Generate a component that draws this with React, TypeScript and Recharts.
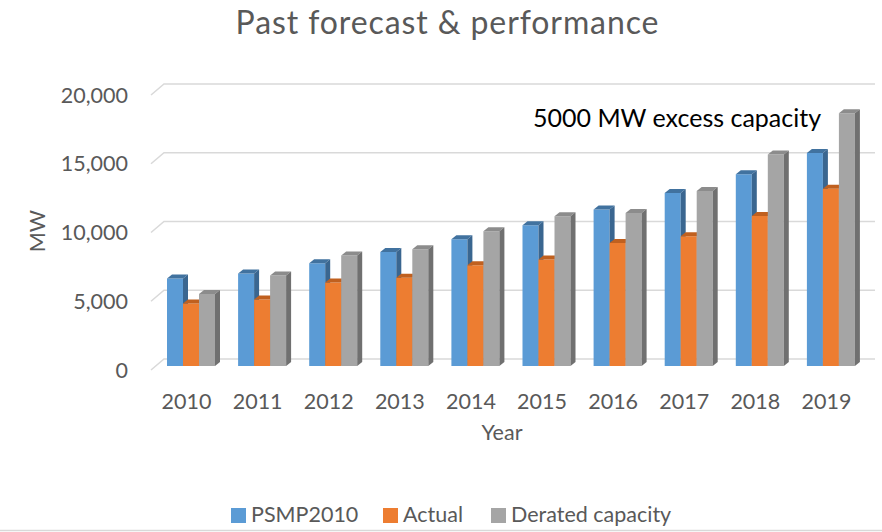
import { BarChart, Bar, XAxis, YAxis, CartesianGrid } from 'recharts'

const years = ['2010', '2011', '2012', '2013', '2014', '2015', '2016', '2017', '2018', '2019']
const psmp2010 = [6370, 6730, 7480, 8300, 9220, 10240, 11380, 12580, 13940, 15490]
const actual = [4550, 4840, 6080, 6410, 7330, 7750, 8950, 9440, 10910, 12900]
const derated = [5230, 6590, 8040, 8490, 9800, 10890, 11130, 12730, 15390, 18390]
const yTicks = [0, 5000, 10000, 15000, 20000]

const series = [
  { key: 'PSMP2010', front: '#5b9bd5', top: '#41729f', side: '#3a6690' },
  { key: 'Actual', front: '#ed7d31', top: '#c0601f', side: '#b0561b' },
  { key: 'Derated capacity', front: '#a5a5a5', top: '#8c8c8c', side: '#707070' },
]

const chartData = years.map((year, i) => ({
  year,
  PSMP2010: psmp2010[i],
  Actual: actual[i],
  'Derated capacity': derated[i],
}))

// fake 3D depth
const GRID_DX = 13
const GRID_DY = -11
const BAR_SHIFT_X = 4
const BAR_SHIFT_Y = -4
const BAR_DX = 5
const BAR_DY = -4

const textColor = '#595959'
const gridColor = '#d9d9d9'
const font = 'Lato, "Open Sans", sans-serif'

const makeShape = (s: { front: string; top: string; side: string }) => (props: any) => {
  const { x, y, width, height } = props
  if (height == null || width == null) return null
  const fx = x + BAR_SHIFT_X
  const fy = y + BAR_SHIFT_Y
  return (
    <g>
      <path d={`M${fx},${fy} h${width} v${height} h${-width} Z`} fill={s.front} />
      <path d={`M${fx},${fy} l${BAR_DX},${BAR_DY} h${width} l${-BAR_DX},${-BAR_DY} Z`} fill={s.top} />
      <path d={`M${fx + width},${fy} l${BAR_DX},${BAR_DY} v${height} l${-BAR_DX},${-BAR_DY} Z`} fill={s.side} />
    </g>
  )
}

const gridLine = (props: any) => {
  const { x1, y1, x2, key } = props
  return (
    <path
      key={key}
      d={`M${x1},${y1} L${x1 + GRID_DX},${y1 + GRID_DY} L${x2 + GRID_DX},${y1 + GRID_DY}`}
      stroke={gridColor}
      strokeWidth={1.5}
      fill="none"
    />
  )
}

const legendItems = [
  { label: 'PSMP2010', color: series[0].front, x: 231 },
  { label: 'Actual', color: series[1].front, x: 383 },
  { label: 'Derated capacity', color: series[2].front, x: 491 },
]

export default function App() {
  return (
    <div style={{ position: 'absolute', left: 0, top: 0, width: 882, height: 532, background: '#fff' }}>
      <BarChart
        width={882}
        height={531}
        data={chartData}
        margin={{ top: 95, right: 20, left: 91, bottom: 131 }}
        barCategoryGap={12}
        barGap={0}
      >
        <CartesianGrid vertical={false} horizontal={gridLine} />
        <XAxis
          dataKey="year"
          axisLine={false}
          tickLine={false}
          tickSize={0}
          tickMargin={24}
          height={30}
          interval={0}
          tick={{ fill: textColor, fontSize: 21.5, fontFamily: font }}
        />
        <YAxis
          domain={[0, 20000]}
          ticks={yTicks}
          width={60}
          axisLine={false}
          tickLine={false}
          tickSize={0}
          tickMargin={23}
          tickFormatter={(v: number) => v.toLocaleString('en-US')}
          tick={{ fill: textColor, fontSize: 21.5, fontFamily: font }}
        />
        {series.map(s => (
          <Bar key={s.key} dataKey={s.key} shape={makeShape(s)} isAnimationActive={false} />
        ))}
      </BarChart>
      <svg width={882} height={532} style={{ position: 'absolute', left: 0, top: 0, pointerEvents: 'none' }}>
        <text x={447.5} y={34} textAnchor="middle" fontSize={32} letterSpacing={0.9} fill={textColor} fontFamily={font}>
          Past forecast &amp; performance
        </text>
        <text x={45} y={231} textAnchor="middle" fontSize={21.5} fill={textColor} fontFamily={font} transform="rotate(-90 45 231)">
          MW
        </text>
        <text x={502} y={440} textAnchor="middle" fontSize={21.5} fill={textColor} fontFamily={font}>
          Year
        </text>
        <text x={533} y={126.5} fontSize={25} fill="#000" fontFamily={font}>
          5000 MW excess capacity
        </text>
        {legendItems.map(item => (
          <g key={item.label}>
            <rect x={item.x} y={508} width={15} height={15} fill={item.color} />
            <text x={item.x + 20} y={522} fontSize={21.5} fill={textColor} fontFamily={font}>
              {item.label}
            </text>
          </g>
        ))}
        <line x1={0} y1={530.5} x2={882} y2={530.5} stroke={gridColor} strokeWidth={1.5} />
      </svg>
    </div>
  )
}
